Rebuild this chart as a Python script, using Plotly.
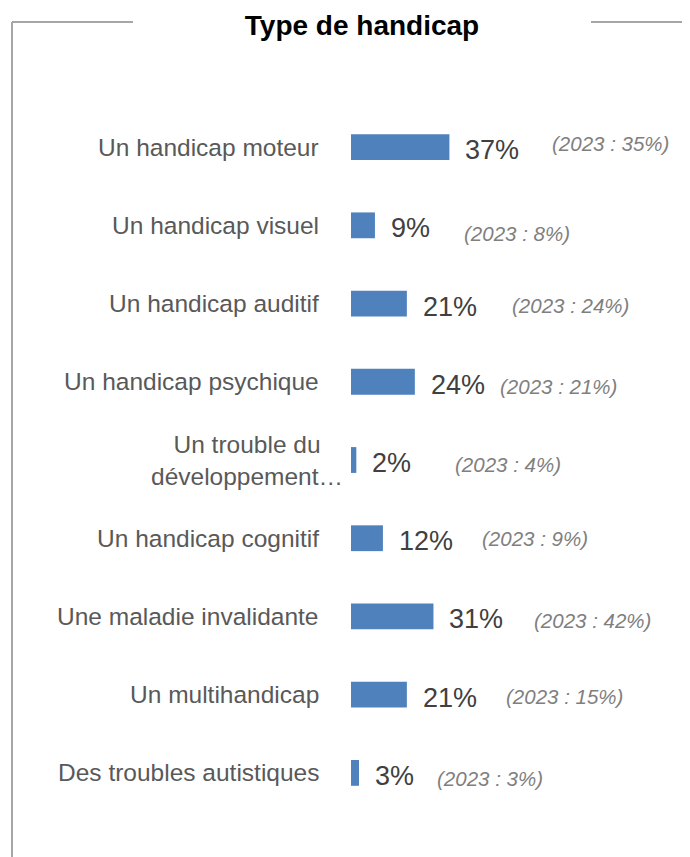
import plotly.graph_objects as go

# Type de handicap - share of respondents, with 2023 reference figures
categories = [
    "Un handicap moteur",
    "Un handicap visuel",
    "Un handicap auditif",
    "Un handicap psychique",
    "Un trouble du<br>développement…",
    "Un handicap cognitif",
    "Une maladie invalidante",
    "Un multihandicap",
    "Des troubles autistiques",
]
values_2024 = [37, 9, 21, 24, 2, 12, 31, 21, 3]
values_2023 = [35, 8, 24, 21, 4, 9, 42, 15, 3]

# hand-placed offsets of the "(2023 : x%)" notes, in pixels
note_dx = [103, 89, 105, 85, 99, 99, 101, 99, 78]
note_dy = [-4, 8, 2, 5, 4, 0, 4, 2, 6]

# the page puts the figure 8px in from the window corner
OFF = 8
W, H = 690 - OFF, 857 - OFF
ML, MR, MT = 351 - OFF, 9, 108 - OFF
MB = H - (812 - OFF)
pw = W - ML - MR
ph = H - MT - MB


def px_x(p):
    return (p - OFF - ML) / pw


def px_y(p):
    return (H - MB - (p - OFF)) / ph


fig = go.Figure()
fig.add_trace(go.Bar(
    x=values_2024, y=categories, orientation='h',
    marker=dict(color='#4f81bd', line=dict(width=0)),
    hoverinfo='skip',
))

for i, cat in enumerate(categories):
    two_lines = '<br>' in cat
    fig.add_annotation(
        x=0, y=cat, xref='x', yref='y', text=cat, showarrow=False,
        xanchor='right', yanchor='middle', align='center' if two_lines else 'right',
        xshift=-6 if two_lines else -30,
        font=dict(family='Liberation Sans', size=24.5, color='#595959'),
    )
    fig.add_annotation(
        x=values_2024[i], y=cat, xref='x', yref='y', text='%d%%' % values_2024[i],
        showarrow=False, xanchor='left', yanchor='middle', xshift=14, yshift=-3,
        font=dict(family='Liberation Sans', size=27, color='#404040'),
    )
    fig.add_annotation(
        x=values_2024[i], y=cat, xref='x', yref='y',
        text='<i>(2023 : %d%%)</i>' % values_2023[i],
        showarrow=False, xanchor='left', yanchor='middle',
        xshift=note_dx[i] - 2, yshift=-note_dy[i],
        font=dict(family='Liberation Sans', size=20.5, color='#7f7f7f'),
    )

# chart frame interrupted by the title
line = dict(color='#a6a6a6', width=2)
fig.add_shape(type='line', xref='paper', yref='paper',
              x0=px_x(12), x1=px_x(12), y0=px_y(22), y1=px_y(870), line=line)
fig.add_shape(type='line', xref='paper', yref='paper',
              x0=px_x(12), x1=px_x(133), y0=px_y(22), y1=px_y(22), line=line)
fig.add_shape(type='line', xref='paper', yref='paper',
              x0=px_x(591), x1=px_x(700), y0=px_y(22), y1=px_y(22), line=line)

fig.update_layout(
    width=W, height=H,
    margin=dict(l=ML, r=MR, t=MT, b=MB),
    paper_bgcolor='white', plot_bgcolor='white',
    showlegend=False, bargap=0.67,
    title=dict(text='<b>Type de handicap</b>', x=(362 - OFF) / W, xanchor='center',
               y=1 - (25 - OFF) / H, yanchor='middle',
               font=dict(family='Liberation Sans', size=28, color='#000000')),
    xaxis=dict(range=[0, pw / 2.66], visible=False, fixedrange=True),
    yaxis=dict(autorange='reversed', showticklabels=False, showgrid=False,
               zeroline=False, showline=False, fixedrange=True),
)

fig.write_html("out.html")
